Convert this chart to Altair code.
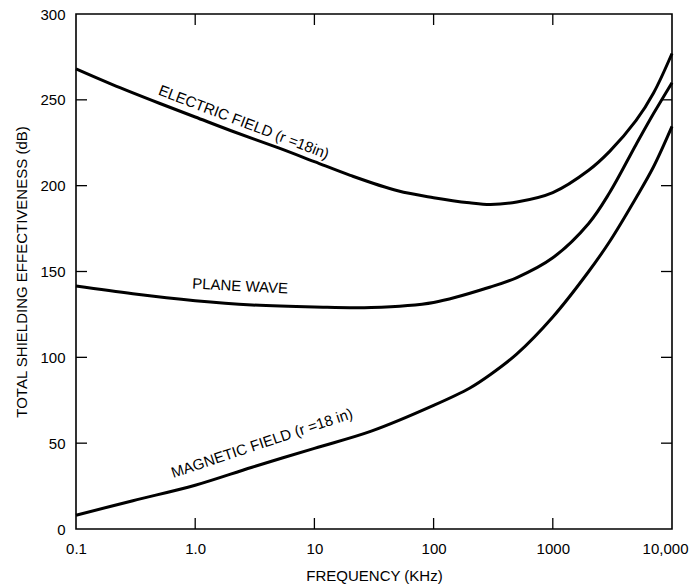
import math
import altair as alt
import pandas as pd

# ---- data ----
freq_electric = [0.1, 0.2, 0.5, 1, 2, 5, 10, 20, 50, 100, 200, 300, 500, 1000, 2000, 3000, 5000, 7000, 10000]
db_electric = [268, 259, 248, 240, 232, 222, 214, 206, 197, 193, 190, 189, 190.5, 196, 209, 220, 238, 254, 277]

freq_plane = [0.1, 0.3, 1, 3, 10, 30, 100, 300, 500, 1000, 2000, 3000, 5000, 7000, 10000]
db_plane = [141.5, 137, 133, 130.5, 129.3, 129, 132, 141, 146.5, 158, 178, 196, 224, 242, 260]

freq_magnetic = [0.1, 0.3, 1, 3, 10, 30, 100, 200, 300, 500, 1000, 2000, 3000, 5000, 7000, 10000]
db_magnetic = [8, 16.5, 25.5, 36, 47, 57, 72, 82, 90, 102, 123.5, 150, 167.5, 193, 211, 234.5]

label_text = ["ELECTRIC FIELD (r =18in)", "PLANE WAVE", "MAGNETIC FIELD (r =18 in)"]
label_freq = [2.56, 2.38, 3.63]
label_db = [237, 141.5, 50]
label_angle = [21, 3, 341.5]

x_tick_values = [0.1, 1, 10, 100, 1000, 10000]
x_tick_labels = ["0.1", "1.0", "10", "100", "1000", "10,000"]
y_tick_values = [0, 50, 100, 150, 200, 250, 300]
inner_x_ticks = [1, 10, 100, 1000]
inner_y_ticks = [50, 100, 150, 200, 250]

# ---- build tables ----
rows = []
for name, fs, vs in [("electric", freq_electric, db_electric),
                     ("plane", freq_plane, db_plane),
                     ("magnetic", freq_magnetic, db_magnetic)]:
    for f, v in zip(fs, vs):
        rows.append({"series": name, "freq": f, "db": v})
df = pd.DataFrame(rows)

W, H = 596, 515
FONT = "Liberation Sans"

x_scale = alt.Scale(type="log", domain=[0.1, 10000], nice=False)
y_scale = alt.Scale(domain=[0, 300], nice=False, zero=False)

expr = "''"
for v, t in reversed(list(zip(x_tick_values, x_tick_labels))):
    expr = f"(abs(log(datum.value)/log(10) - ({math.log10(v)})) < 0.01 ? '{t}' : {expr})"

last_test = "datum.value > 5000"
x_axis = alt.Axis(values=x_tick_values, labelExpr=expr, ticks=False, tickSize=0, domain=False,
                  grid=False, labelFont=FONT, labelFontSize=15, labelColor="black",
                  labelPadding=12, title="FREQUENCY (KHz)", titleFont=FONT, titleFontSize=15,
                  titleFontWeight="normal", titleColor="black", titleY=51,
                  titleBaseline="alphabetic", labelFlush=False, labelOverlap=False,
                  labelAlign={"condition": {"test": last_test, "value": "right"}, "value": "center"},
                  labelOffset={"condition": {"test": last_test, "value": 16}, "value": 0})
y_axis = alt.Axis(values=y_tick_values, ticks=False, tickSize=0, domain=False, grid=False,
                  labelFont=FONT, labelFontSize=15, labelColor="black", labelPadding=11,
                  title="TOTAL SHIELDING EFFECTIVENESS (dB)", titleFont=FONT, titleFontSize=15,
                  titleFontWeight="normal", titleColor="black", titleAngle=270,
                  titleX=-50, titleY=H / 2, titleBaseline="alphabetic", titleAlign="center",
                  labelFlush=False, labelOverlap=False)


def X():
    return alt.X("freq:Q", scale=x_scale, axis=x_axis)


def Y():
    return alt.Y("db:Q", scale=y_scale, axis=y_axis)


lines = alt.Chart(df).mark_line(color="black", strokeWidth=3, interpolate="catmull-rom").encode(
    x=X(), y=Y(), detail="series:N",
)

ytick_df = pd.DataFrame({"db": inner_y_ticks})
xtick_df = pd.DataFrame({"freq": inner_x_ticks})
TL = 11
left_ticks = alt.Chart(ytick_df).mark_rule(color="black", strokeWidth=1.3).encode(
    y=Y(), x=alt.value(0), x2=alt.value(TL))
right_ticks = alt.Chart(ytick_df).mark_rule(color="black", strokeWidth=1.3).encode(
    y=Y(), x=alt.value(W - TL), x2=alt.value(W))
bottom_ticks = alt.Chart(xtick_df).mark_rule(color="black", strokeWidth=1.3).encode(
    x=X(), y=alt.value(H), y2=alt.value(H - TL))
top_ticks = alt.Chart(xtick_df).mark_rule(color="black", strokeWidth=1.3).encode(
    x=X(), y=alt.value(0), y2=alt.value(TL))

texts = []
for t, f, v, a in zip(label_text, label_freq, label_db, label_angle):
    tdf = pd.DataFrame({"freq": [f], "db": [v], "label": [t]})
    texts.append(alt.Chart(tdf).mark_text(font=FONT, fontSize=15, color="black", angle=a,
                                          align="center", baseline="middle").encode(
        x=X(), y=Y(), text="label:N"))

chart = alt.layer(lines, left_ticks, right_ticks, bottom_ticks, top_ticks, *texts).properties(
    width=W, height=H,
    autosize=alt.AutoSizeParams(type="none"),
    padding={"left": 76, "top": 14, "right": 19, "bottom": 56},
    background="white",
).configure_view(stroke="black", strokeWidth=1.6)

chart.save("out.html", embed_options={"renderer": "svg", "actions": False})
